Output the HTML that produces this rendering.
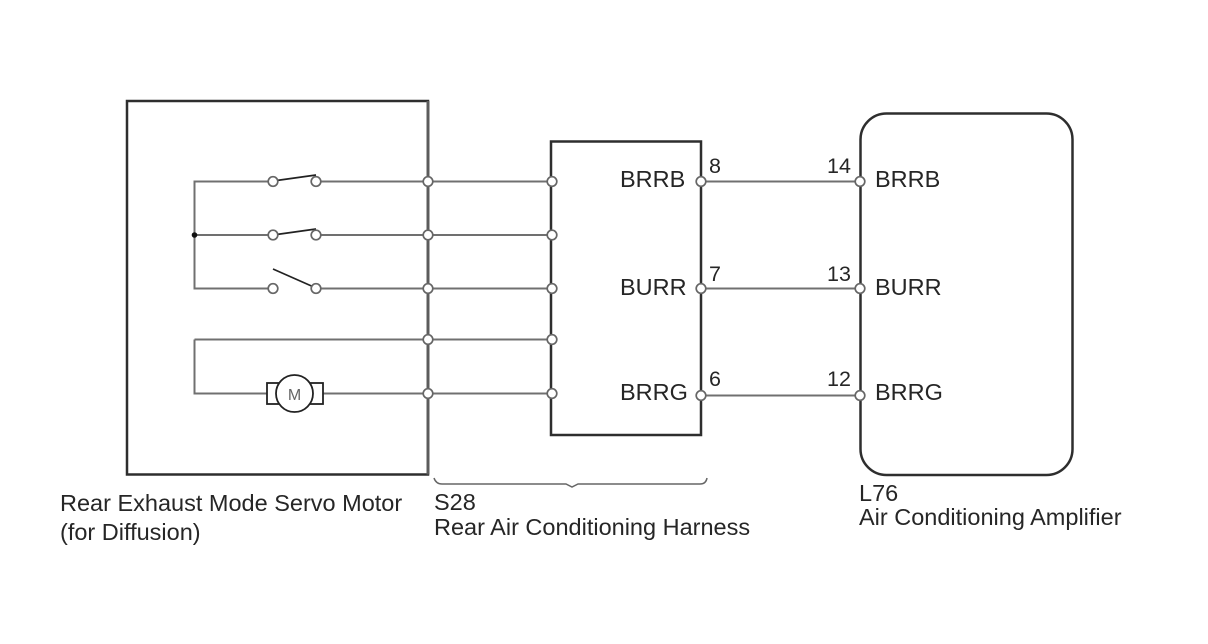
<!DOCTYPE html>
<html><head><meta charset="utf-8"><style>
html,body{margin:0;padding:0;background:#fff}
svg{display:block}
text{font-family:"Liberation Sans",sans-serif;font-size:23.5px;fill:#262626}
text.n{font-size:21.5px}
.c{fill:#fff;stroke:#666;stroke-width:1.7}
.w{stroke:#707070;stroke-width:2;fill:none}
.b{stroke:#2e2e2e;fill:none}
</style></head><body>
<svg width="1208" height="644" viewBox="0 0 1208 644">
<rect x="127" y="101" width="301" height="373.5" class="b" stroke-width="2.5"/>
<path d="M428 101V474.500" stroke="#5c5c5c" stroke-width="3" fill="none"/>
<rect x="551" y="141.500" width="150" height="293.500" class="b" stroke-width="2.500"/>
<rect x="860.500" y="113.500" width="212" height="361.500" rx="26" class="b" stroke-width="2.500"/>
<path class="w" d="M272 181.500H194.500V288.500H272M194.500 235H272M320 181.500H552M320 235H552M320 288.500H552M194.500 339.500H552M194.500 339.500V393.500H267M323 393.500H552M701 181.500H860M701 288.500H860M701 395.500H860"/>
<circle cx="194.500" cy="235" r="2.800" fill="#111"/>
<path d="M273 181L316 175M273 235L316 229M273 269L316 288" stroke="#222" stroke-width="1.700" fill="none"/>
<g class="c">
<circle cx="273" cy="181.500" r="4.800"/><circle cx="316" cy="181.500" r="4.800"/>
<circle cx="273" cy="235" r="4.800"/><circle cx="316" cy="235" r="4.800"/>
<circle cx="273" cy="288.500" r="4.800"/><circle cx="316" cy="288.500" r="4.800"/>
<circle cx="428" cy="181.500" r="4.800"/><circle cx="428" cy="235" r="4.800"/><circle cx="428" cy="288.500" r="4.800"/><circle cx="428" cy="339.500" r="4.800"/><circle cx="428" cy="393.500" r="4.800"/>
<circle cx="552" cy="181.500" r="4.800"/><circle cx="552" cy="235" r="4.800"/><circle cx="552" cy="288.500" r="4.800"/><circle cx="552" cy="339.500" r="4.800"/><circle cx="552" cy="393.500" r="4.800"/>
<circle cx="701" cy="181.500" r="4.800"/><circle cx="701" cy="288.500" r="4.800"/><circle cx="701" cy="395.500" r="4.800"/>
<circle cx="860" cy="181.500" r="4.800"/><circle cx="860" cy="288.500" r="4.800"/><circle cx="860" cy="395.500" r="4.800"/>
</g>
<rect x="267" y="383" width="56" height="21" fill="#fff" stroke="#222" stroke-width="1.800"/>
<circle cx="294.500" cy="393.500" r="18.500" fill="#fff" stroke="#222" stroke-width="1.800"/>
<text x="294.500" y="400" text-anchor="middle" style="font-size:16px;fill:#666">M</text>
<path d="M434 478Q436 484 442 484H566L572 487L578 484H700Q706 484 707 478" stroke="#666" stroke-width="1.500" fill="none"/>
<text x="620" y="187">BRRB</text><text x="620" y="295">BURR</text><text x="620" y="400">BRRG</text>
<text x="875" y="187">BRRB</text><text x="875" y="295">BURR</text><text x="875" y="400">BRRG</text>
<text class="n" x="709" y="173">8</text><text class="n" x="709" y="281">7</text><text class="n" x="709" y="386">6</text>
<text class="n" x="827" y="173">14</text><text class="n" x="827" y="281">13</text><text class="n" x="827" y="386">12</text>
<text x="60" y="511">Rear Exhaust Mode Servo Motor</text><text x="60" y="540">(for Diffusion)</text>
<text x="434" y="510">S28</text><text x="434" y="535">Rear Air Conditioning Harness</text>
<text x="859" y="501">L76</text><text x="859" y="525">Air Conditioning Amplifier</text>
</svg>
</body></html>
